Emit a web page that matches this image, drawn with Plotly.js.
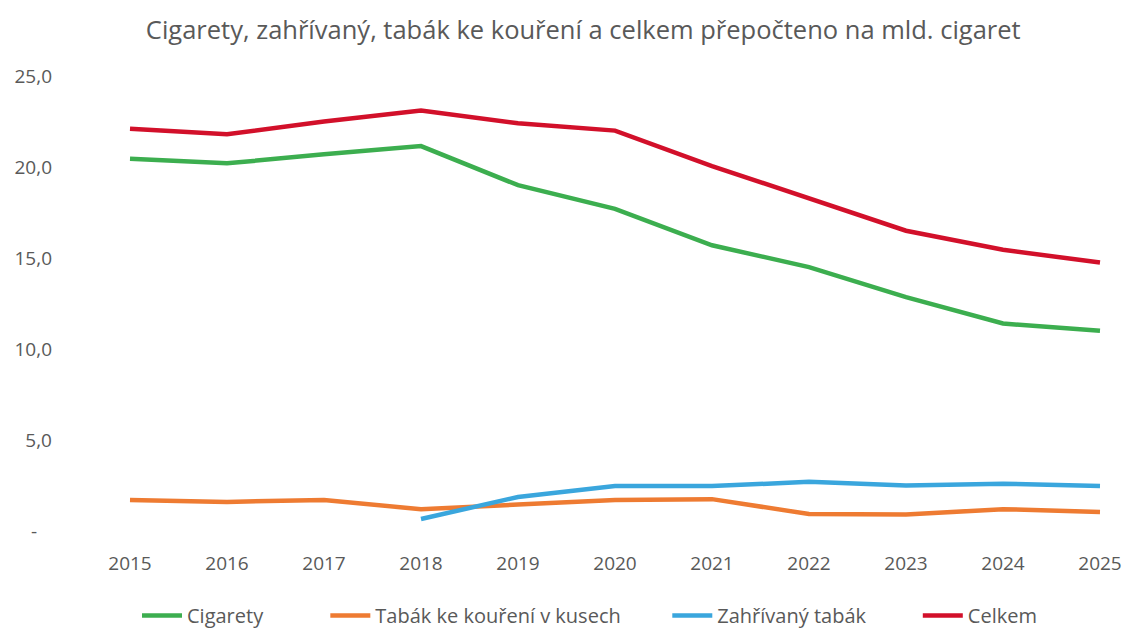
<!DOCTYPE html>
<html><head><meta charset="utf-8">
<script src="https://cdn.plot.ly/plotly-3.0.1.min.js"></script>
<style>html,body{margin:0;padding:0;background:#fff}#c{width:1126px;height:628px}</style>
</head><body><div id="c"></div>
<script>
const years = ['2015','2016','2017','2018','2019','2020','2021','2022','2023','2024','2025'];
const cigarety = [20.45, 20.2, 20.7, 21.15, 19.0, 17.7, 15.7, 14.5, 12.85, 11.4, 11.0];
const tabak = [1.7, 1.6, 1.7, 1.2, 1.45, 1.7, 1.75, 0.93, 0.9, 1.2, 1.05];
const zahrivany = [null, null, null, 0.66, 1.87, 2.47, 2.47, 2.7, 2.5, 2.6, 2.47];
const celkem = [22.1, 21.8, 22.5, 23.1, 22.4, 22.0, 20.05, 18.3, 16.5, 15.45, 14.75];
const seriesNames = ['Cigarety', 'Tabák ke kouření v kusech', 'Zahřívaný tabák', 'Celkem'];
const yTicks = [0, 5, 10, 15, 20, 25];
const yTickText = ['-\u00a0\u00a0\u00a0', '5,0', '10,0', '15,0', '20,0', '25,0'];

const F = '"Open Sans", sans-serif';
const pad = n => '\u00a0'.repeat(n);
const mk = (name, y, color) => ({type:'scatter', mode:'lines', name, x: years, y,
  line:{color, width:4.5}, connectgaps:false});
const data = [
  mk(seriesNames[0] + pad(11), cigarety, '#3CAE4F'),
  mk(seriesNames[1] + pad(8), tabak, '#EE7B32'),
  mk(seriesNames[2] + pad(9), zahrivany, '#3AA6DD'),
  mk(seriesNames[3], celkem, '#D2102A')
];
const layout = {
  width:1126, height:628,
  margin:{l:75, r:10, t:76, b:97},
  paper_bgcolor:'#fff', plot_bgcolor:'#fff',
  font:{family:F, color:'#595959', size:20},
  title:{text:'Cigarety, zahřívaný, tabák ke kouření a celkem přepočteno na mld. cigaret',
    font:{family:F, size:25.5, color:'#595959'}, x:0.518, xanchor:'center',
    yref:'container', y:0.952, yanchor:'middle'},
  xaxis:{type:'category', range:[-0.567, 10.165], showgrid:false, zeroline:false, showline:false,
    ticks:'', ticklabelstandoff:19, tickfont:{size:19, color:'#595959'}},
  yaxis:{range:[0,25], tickvals:yTicks, ticktext:yTickText, showgrid:false, zeroline:false,
    showline:false, ticks:'', ticklabelstandoff:22, tickfont:{size:19, color:'#595959'}},
  showlegend:true,
  legend:{orientation:'h', xref:'container', x:137/1126, xanchor:'left', yref:'container', y:0.02, yanchor:'middle',
    font:{size:20, color:'#595959'}, itemwidth:40, tracegroupgap:0}
};
Plotly.newPlot('c', data, layout, {displayModeBar:false, staticPlot:true});
</script></body></html>
